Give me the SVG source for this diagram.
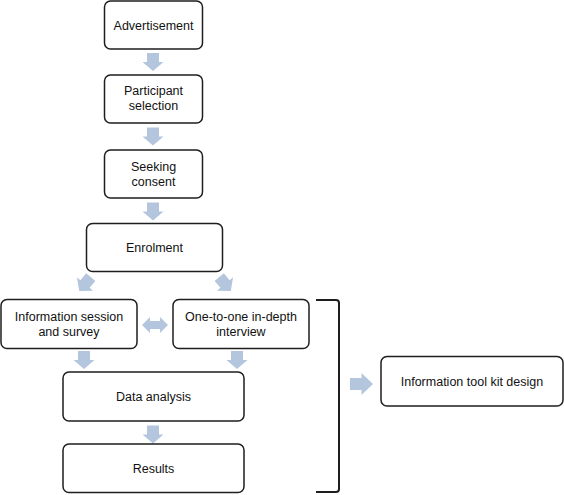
<svg xmlns="http://www.w3.org/2000/svg" width="564" height="495" viewBox="0 0 564 495">
<style>
.box{fill:#fff;stroke:#1e1e1e;stroke-width:1.5}
.t{font-family:"Liberation Sans",Arial,sans-serif;font-size:12.5px;fill:#111;text-anchor:middle}
.ar{fill:#b4c5de}
</style>
<defs>
<path id="down" d="M-6,-9 H6 V0 H10.5 L0,9 L-10.5,0 H-6 Z"/>
</defs>
<rect width="564" height="495" fill="#fff"/>
<g id="connectors">
<use href="#down" class="ar" transform="translate(153,62)"/>
<use href="#down" class="ar" transform="translate(153,136.5)"/>
<use href="#down" class="ar" transform="translate(153,211.5)"/>
<use href="#down" class="ar" transform="translate(85,284) rotate(40)"/>
<use href="#down" class="ar" transform="translate(225,284) rotate(-40)"/>
<path class="ar" d="M142,325 L150,317 V321 H160 V317 L168,325 L160,333 V329 H150 V333 Z"/>
<use href="#down" class="ar" transform="translate(84,360)"/>
<use href="#down" class="ar" transform="translate(237,360)"/>
<use href="#down" class="ar" transform="translate(153,434.5)"/>
<path d="M316,300 H336 Q339,300 339,303 V489 Q339,492 336,492 H316" fill="none" stroke="#1e1e1e" stroke-width="2"/>
<path class="ar" d="M350,378 H361.5 V373 L373,384 L361.5,395 V390 H350 Z"/>
</g>
<g id="advertisement">
<rect class="box" x="104.5" y="1" width="98" height="48" rx="6"/>
<text class="t" x="153.5" y="29.5">Advertisement</text>
</g>
<g id="participant-selection">
<rect class="box" x="104.5" y="75" width="98" height="48" rx="6"/>
<text class="t" x="153.5" y="95">Participant</text>
<text class="t" x="153.5" y="110">selection</text>
</g>
<g id="seeking-consent">
<rect class="box" x="104.5" y="150" width="98" height="48" rx="6"/>
<text class="t" x="153.5" y="171">Seeking</text>
<text class="t" x="153.5" y="186">consent</text>
</g>
<g id="enrolment">
<rect class="box" x="86.5" y="223.5" width="136" height="48" rx="6"/>
<text class="t" x="154.5" y="252">Enrolment</text>
</g>
<g id="information-session">
<rect class="box" x="1" y="299.5" width="136" height="49" rx="6"/>
<text class="t" x="69" y="320.5">Information session</text>
<text class="t" x="69" y="335.5">and survey</text>
</g>
<g id="one-to-one">
<rect class="box" x="173" y="299.5" width="136" height="49" rx="6"/>
<text class="t" x="241" y="320.5">One-to-one in-depth</text>
<text class="t" x="241" y="335.5">interview</text>
</g>
<g id="data-analysis">
<rect class="box" x="63" y="372" width="181" height="49" rx="6"/>
<text class="t" x="153.5" y="401">Data analysis</text>
</g>
<g id="results">
<rect class="box" x="63" y="444" width="181" height="48.5" rx="6"/>
<text class="t" x="153.5" y="473">Results</text>
</g>
<g id="toolkit">
<rect class="box" x="381" y="356.5" width="182" height="49.5" rx="6"/>
<text class="t" x="472" y="386">Information tool kit design</text>
</g>
</svg>
